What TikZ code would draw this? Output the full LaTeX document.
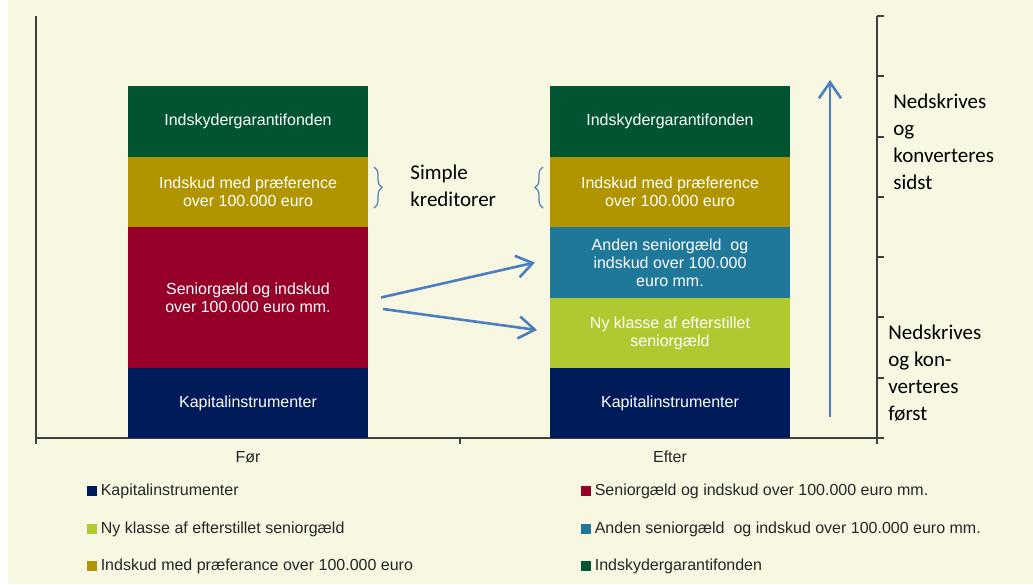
\documentclass[tikz,border=0pt]{standalone}
\usepackage{fontspec}
\setmainfont{Liberation Sans}
\newfontfamily\calibri{Carlito}
\usetikzlibrary{arrows.meta,positioning,decorations.pathreplacing}

\definecolor{cream}{HTML}{F8F7E1}
\definecolor{kgreen}{HTML}{005530}
\definecolor{kyellow}{HTML}{B09400}
\definecolor{kred}{HTML}{960028}
\definecolor{knavy}{HTML}{001B5A}
\definecolor{kteal}{HTML}{1F7799}
\definecolor{klime}{HTML}{B0C930}
\definecolor{arrowblue}{HTML}{4A7EC0}
\definecolor{axisgray}{HTML}{404040}

\tikzset{
  bar/.style={text=white, minimum width=120pt, inner sep=0pt, outer sep=0pt,
    align=center, font=\fontsize{8}{9}\selectfont},
  axis/.style={draw=axisgray, line width=1pt},
  arr/.style={draw=arrowblue, line width=1.3pt, -{Straight Barb[length=8pt,width=11pt]}},
  bracket/.style={draw=arrowblue!85!gray, line width=0.6pt, decorate,
    decoration={brace, amplitude=4pt}},
  legsq/.style={minimum size=5pt, inner sep=0pt},
  legtext/.style={inner sep=0pt, text=black!85, font=\fontsize{8}{9}\selectfont},
  catlabel/.style={inner sep=0pt, text=black!85, font=\fontsize{8}{9}\selectfont},
  note/.style={inner sep=0pt, align=left, font=\calibri\fontsize{10.5}{13.5}\selectfont}
}

\begin{document}
\begin{tikzpicture}[x=0.5pt,y=-0.5pt]
\useasboundingbox (0,0) rectangle (1033,584);
\fill[cream] (8,0) rectangle (1033,584);

% axes
\draw[axis] (36,16) -- (36,438) -- (877,438);
\draw[axis] (877,16) -- (877,444);
\foreach \x in {36,460} \draw[axis] (\x,438) -- (\x,444);
\foreach \y in {16,76.3,136.6,196.9,257.1,317.4,377.7,438} \draw[axis] (877,\y) -- (884,\y);

% Foer
\node[bar, fill=kgreen, minimum height=35.5pt] (garfor) at (248,121.5) {Indskydergarantifonden};
\node[bar, fill=kyellow, minimum height=35pt] (prefor) at (248,192) {Indskud med præference\\over 100.000 euro};
\node[bar, fill=kred, minimum height=70.5pt] (senfor) at (248,297.5) {Seniorgæld og indskud\\over 100.000 euro mm.};
\node[bar, fill=knavy, minimum height=35pt] (kapfor) at (248,403) {Kapitalinstrumenter};

% Efter
\node[bar, fill=kgreen, minimum height=35.5pt] (garefter) at (670,121.5) {Indskydergarantifonden};
\node[bar, fill=kyellow, minimum height=35pt] (preefter) at (670,192) {Indskud med præference\\over 100.000 euro};
\node[bar, fill=kteal, minimum height=35.5pt] (andenefter) at (670,262.5) {Anden seniorgæld\ \ og\\indskud over 100.000\\euro mm.};
\node[bar, fill=klime, minimum height=35pt] (nyefter) at (670,333) {Ny klasse af efterstillet\\seniorgæld};
\node[bar, fill=knavy, minimum height=35pt] (kapefter) at (670,403) {Kapitalinstrumenter};

\node[catlabel] (lfor) at (248,457) {Før};
\node[catlabel] (lefter) at (670,457) {Efter};

% simple kreditorer
\draw[bracket] (374,167) -- (374,208);
\draw[bracket] (543,208) -- (543,167);
\node[note, anchor=west] (simple) at (410,186) {Simple\\kreditorer};

% arrows
\draw[arr] ([xshift=6.5pt]senfor.east) -- ([xshift=-7.5pt]andenefter.west);
\draw[arr] ([xshift=7.5pt,yshift=-5.75pt]senfor.east) -- ([xshift=-6.5pt,yshift=1.5pt]nyefter.west);
\coordinate (bund) at (830,417);
\coordinate (top) at (830,80);
\draw[arr] (bund) -- (top);

\node[note, anchor=west] (sidst) at (893,142) {Nedskrives\\og\\konverteres\\sidst};
\node[note, anchor=west] (foerst) at (888,373) {Nedskrives\\og kon-\\verteres\\først};

% legend
\node[legsq, fill=knavy] (sqkap) at (92,491) {};
\node[legtext, right=1.5pt of sqkap] (legkap) {Kapitalinstrumenter};
\node[legsq, fill=klime] (sqny) at (92,529) {};
\node[legtext, right=1.5pt of sqny] (legny) {Ny klasse af efterstillet seniorgæld};
\node[legsq, fill=kyellow] (sqpre) at (92,566) {};
\node[legtext, right=1.5pt of sqpre] (legpre) {Indskud med præferance over 100.000 euro};
\node[legsq, fill=kred] (sqsen) at (586,491) {};
\node[legtext, right=1.5pt of sqsen] (legsen) {Seniorgæld og indskud over 100.000 euro mm.};
\node[legsq, fill=kteal] (sqanden) at (586,529) {};
\node[legtext, right=1.5pt of sqanden] (leganden) {Anden seniorgæld\ \ og indskud over 100.000 euro mm.};
\node[legsq, fill=kgreen] (sqgar) at (586,566) {};
\node[legtext, right=1.5pt of sqgar] (leggar) {Indskydergarantifonden};
\end{tikzpicture}
\end{document}
